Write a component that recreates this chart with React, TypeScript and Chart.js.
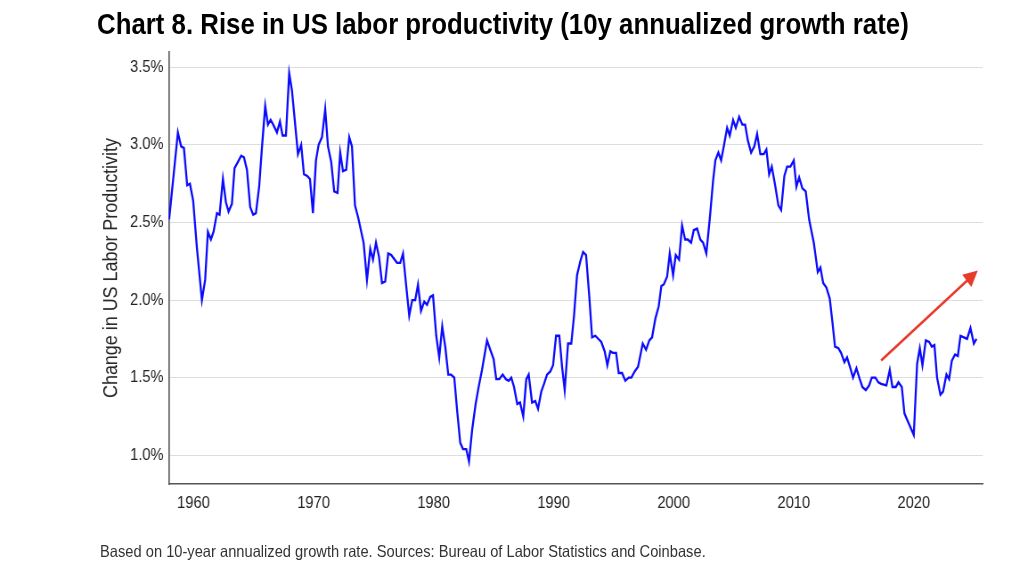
import React, { useEffect, useRef } from "react";
import { Chart, registerables } from "chart.js";

Chart.register(...registerables);

// Quarterly 10-year annualized growth of US labor productivity (%)
const years = [
  1957.97, 1958.7, 1958.97, 1959.2, 1959.47, 1959.7, 1959.97, 1960.28, 1960.7, 1960.97,
  1961.2, 1961.45, 1961.67, 1961.95, 1962.17, 1962.45, 1962.7, 1962.92, 1963.2, 1963.42,
  1963.7, 1963.97, 1964.2, 1964.45, 1964.72, 1964.97, 1965.2, 1965.47, 1965.7, 1965.97,
  1966.2, 1966.42, 1966.64, 1966.95, 1967.2, 1967.42, 1967.7, 1967.97, 1968.2, 1968.7,
  1968.97, 1969.2, 1969.47, 1969.7, 1969.95, 1970.2, 1970.42, 1970.7, 1970.97, 1971.2,
  1971.47, 1971.72, 1972.0, 1972.22, 1972.45, 1972.72, 1972.97, 1973.2, 1973.45, 1973.72,
  1974.17, 1974.45, 1974.72, 1974.95, 1975.2, 1975.45, 1975.7, 1975.97, 1976.22, 1976.47,
  1976.95, 1977.22, 1977.45, 1977.72, 1977.97, 1978.22, 1978.47, 1978.7, 1978.95, 1979.22,
  1979.45, 1979.72, 1979.95, 1980.22, 1980.47, 1980.72, 1980.97, 1981.22, 1981.45, 1981.72,
  1981.97, 1982.22, 1982.45, 1982.72, 1982.95, 1983.22, 1983.5, 1983.75, 1984.03, 1984.45,
  1984.72, 1985.0, 1985.22, 1985.47, 1985.75, 1986.03, 1986.25, 1986.47, 1986.7, 1986.97,
  1987.2, 1987.47, 1987.72, 1987.92, 1988.2, 1988.47, 1988.7, 1988.97, 1989.2, 1989.45,
  1989.72, 1989.95, 1990.2, 1990.47, 1990.7, 1990.92, 1991.2, 1991.47, 1991.7, 1991.95,
  1992.22, 1992.45, 1992.7, 1992.97, 1993.2, 1993.47, 1993.97, 1994.25, 1994.47, 1994.72,
  1994.92, 1995.2, 1995.42, 1995.7, 1995.97, 1996.25, 1996.47, 1996.75, 1997.03, 1997.42,
  1997.7, 1997.97, 1998.2, 1998.47, 1998.75, 1998.97, 1999.17, 1999.45, 1999.67, 1999.95,
  2000.17, 2000.45, 2000.7, 2000.95, 2001.17, 2001.45, 2001.67, 2001.95, 2002.22, 2002.45,
  2002.72, 2003.0, 2003.28, 2003.47, 2003.72, 2003.95, 2004.17, 2004.45, 2004.67, 2004.95,
  2005.17, 2005.45, 2005.72, 2005.95, 2006.17, 2006.45, 2006.72, 2006.95, 2007.22, 2007.5,
  2007.72, 2007.95, 2008.17, 2008.45, 2008.72, 2008.95, 2009.22, 2009.45, 2009.72, 2010.0,
  2010.22, 2010.45, 2010.72, 2011.0, 2011.28, 2011.67, 2012.0, 2012.22, 2012.45, 2012.72,
  2013.0, 2013.22, 2013.44, 2013.72, 2013.94, 2014.22, 2014.44, 2014.72, 2014.94, 2015.22,
  2015.5, 2015.72, 2016.0, 2016.28, 2016.5, 2016.8, 2017.05, 2017.28, 2017.72, 2018.0,
  2018.22, 2018.5, 2018.72, 2019.0, 2019.22, 2019.5, 2019.72, 2020.0, 2020.28, 2020.5,
  2020.72, 2021.0, 2021.28, 2021.5, 2021.72, 2021.94, 2022.22, 2022.44, 2022.72, 2022.94,
  2023.17, 2023.44, 2023.67, 2023.89, 2024.17, 2024.44, 2024.72, 2025.0, 2025.22,
];

const growth = [
  2.52, 3.08, 2.99, 2.98, 2.74, 2.75, 2.64, 2.34, 2.0, 2.13,
  2.44, 2.39, 2.44, 2.56, 2.55, 2.78, 2.63, 2.57, 2.62, 2.85,
  2.89, 2.93, 2.92, 2.84, 2.6, 2.55, 2.56, 2.73, 2.98, 3.25,
  3.13, 3.16, 3.13, 3.08, 3.15, 3.06, 3.06, 3.46, 3.35, 2.94,
  3.0, 2.81, 2.8, 2.78, 2.56, 2.9, 3.0, 3.05, 3.23, 2.99,
  2.89, 2.7, 2.69, 2.95, 2.83, 2.84, 3.05, 2.99, 2.61, 2.53,
  2.37, 2.13, 2.33, 2.26, 2.37, 2.28, 2.11, 2.12, 2.3, 2.29,
  2.24, 2.24, 2.3, 2.09, 1.9, 2.0, 2.0, 2.1, 1.93, 1.99,
  1.97, 2.02, 2.03, 1.77, 1.63, 1.83, 1.7, 1.52, 1.52, 1.5,
  1.28, 1.08, 1.04, 1.04, 0.96, 1.17, 1.33, 1.44, 1.55, 1.74,
  1.68, 1.62, 1.49, 1.49, 1.52, 1.49, 1.48, 1.5, 1.44, 1.33,
  1.34, 1.25, 1.49, 1.52, 1.34, 1.35, 1.3, 1.41, 1.46, 1.52,
  1.54, 1.58, 1.77, 1.77, 1.57, 1.42, 1.72, 1.72, 1.9, 2.16,
  2.25, 2.31, 2.29, 2.02, 1.76, 1.77, 1.73, 1.67, 1.58, 1.67,
  1.66, 1.66, 1.53, 1.53, 1.48, 1.5, 1.5, 1.54, 1.57, 1.72,
  1.68, 1.74, 1.76, 1.88, 1.96, 2.09, 2.1, 2.15, 2.3, 2.16,
  2.29, 2.26, 2.48, 2.39, 2.39, 2.37, 2.45, 2.46, 2.39, 2.37,
  2.3, 2.52, 2.77, 2.9, 2.95, 2.9, 2.99, 3.11, 3.06, 3.16,
  3.11, 3.18, 3.13, 3.13, 3.03, 2.95, 2.99, 3.07, 2.94, 2.94,
  2.97, 2.81, 2.86, 2.74, 2.61, 2.58, 2.8, 2.86, 2.86, 2.9,
  2.73, 2.79, 2.72, 2.7, 2.52, 2.37, 2.18, 2.21, 2.11, 2.08,
  2.01, 1.86, 1.7, 1.69, 1.66, 1.6, 1.63, 1.56, 1.5, 1.56,
  1.49, 1.44, 1.42, 1.45, 1.5, 1.5, 1.47, 1.46, 1.45, 1.55,
  1.44, 1.44, 1.47, 1.44, 1.27, 1.22, 1.18, 1.13, 1.59, 1.69,
  1.58, 1.74, 1.73, 1.7, 1.71, 1.5, 1.39, 1.41, 1.52, 1.49,
  1.61, 1.65, 1.64, 1.77, 1.76, 1.75, 1.82, 1.72, 1.75,
];

const xTickYears = [1960, 1970, 1980, 1990, 2000, 2010, 2020];
const yTickValues = [1.0, 1.5, 2.0, 2.5, 3.0, 3.5];

// Trend arrow: [year, growth] of its tail and tip
const trendTail = [2017.28, 1.61];
const trendTip = [2025.33, 2.19];

const SANS = "'Liberation Sans', Arial, Helvetica, sans-serif";

// The artwork is laid out wide and then condensed horizontally,
// which gives the narrow grotesque look of the type.
const SQUEEZE = 0.89;
const W = 1024;
const H = 583;
const sx = (px: number) => px / SQUEEZE;

const trendArrow = {
  id: "trendArrow",
  afterDatasetsDraw(chart: any) {
    const { ctx, scales } = chart;
    const x0 = scales.x.getPixelForValue(trendTail[0]);
    const y0 = scales.y.getPixelForValue(trendTail[1]);
    const x1 = scales.x.getPixelForValue(trendTip[0]);
    const y1 = scales.y.getPixelForValue(trendTip[1]);
    const ang = Math.atan2(y1 - y0, x1 - x0);
    const headLen = 16;
    const half = 8;
    const cos = Math.cos(ang);
    const sin = Math.sin(ang);
    const bx = x1 - headLen * cos;
    const by = y1 - headLen * sin;
    ctx.save();
    ctx.strokeStyle = "#e8392b";
    ctx.fillStyle = "#e8392b";
    ctx.lineWidth = 2.6;
    ctx.lineCap = "butt";
    ctx.beginPath();
    ctx.moveTo(x0, y0);
    ctx.lineTo(bx + cos, by + sin);
    ctx.stroke();
    ctx.beginPath();
    ctx.moveTo(x1, y1);
    ctx.lineTo(bx - half * sin, by + half * cos);
    ctx.lineTo(bx + half * sin, by - half * cos);
    ctx.closePath();
    ctx.fill();
    ctx.restore();
  },
};

export default function App() {
  const canvasRef = useRef<HTMLCanvasElement | null>(null);

  useEffect(() => {
    if (!canvasRef.current) return;
    const chart = new Chart(canvasRef.current, {
      type: "line",
      data: {
        datasets: [
          {
            data: years.map((t, i) => ({ x: t, y: growth[i] })),
            borderColor: "#0b0bff",
            borderWidth: 2.3,
            pointRadius: 0,
            tension: 0,
            fill: false,
          },
        ],
      },
      options: {
        animation: false,
        responsive: true,
        maintainAspectRatio: false,
        layout: { padding: { left: 0, top: 51.7, right: sx(W) - sx(982), bottom: 0 } },
        plugins: {
          legend: { display: false },
          tooltip: { enabled: false },
        },
        scales: {
          x: {
            type: "linear",
            min: 1957.93,
            max: 2025.75,
            afterBuildTicks: (s: any) => {
              s.ticks = xTickYears.map((v) => ({ value: v }));
            },
            afterFit: (s: any) => {
              s.height = H - 484;
            },
            grid: { display: false, drawTicks: false },
            border: { display: true, color: "#555", width: 1.6 },
            ticks: {
              padding: 9.5,
              maxRotation: 0,
              autoSkip: false,
              color: "#222",
              font: { family: SANS, size: 16.5 },
              callback: (v: any) => String(v),
            },
          },
          y: {
            type: "linear",
            min: 0.815,
            max: 3.6,
            afterBuildTicks: (s: any) => {
              s.ticks = yTickValues.map((v) => ({ value: v }));
            },
            afterFit: (s: any) => {
              s.width = sx(168.5);
            },
            grid: { color: "#dddddd", lineWidth: 1, drawTicks: false },
            border: { display: true, color: "#555", width: 1.6 },
            ticks: {
              padding: sx(5),
              color: "#222",
              font: { family: SANS, size: 16.5 },
              callback: (v: any) => `${Number(v).toFixed(1)}%`,
            },
          },
        },
      },
      plugins: [trendArrow],
    });
    return () => chart.destroy();
  }, []);

  return (
    <div
      style={{
        position: "absolute",
        left: 0,
        top: 0,
        width: W,
        height: H,
        background: "#fff",
        overflow: "hidden",
      }}
    >
      <div
        style={{
          position: "absolute",
          left: 0,
          top: 0,
          width: sx(W),
          height: H,
          transform: `scaleX(${SQUEEZE})`,
          transformOrigin: "0 0",
        }}
      >
        <div
          style={{
            position: "absolute",
            left: sx(97),
            top: 10,
            fontFamily: SANS,
            fontWeight: "bold",
            fontSize: 29,
            lineHeight: "29px",
            color: "#000",
            whiteSpace: "nowrap",
          }}
        >
          Chart 8. Rise in US labor productivity (10y annualized growth rate)
        </div>
        <div style={{ position: "absolute", left: 0, top: 0, width: sx(W), height: H }}>
          <canvas ref={canvasRef} />
        </div>
        <div
          style={{
            position: "absolute",
            left: sx(100),
            top: 543,
            fontFamily: SANS,
            fontSize: 16.5,
            lineHeight: "17px",
            color: "#333",
            whiteSpace: "nowrap",
          }}
        >
          Based on 10-year annualized growth rate. Sources: Bureau of Labor Statistics and Coinbase.
        </div>
      </div>
      {/* Vertical axis title, condensed along its reading direction */}
      <div
        style={{
          position: "absolute",
          left: 111.1,
          top: 267.5,
          fontFamily: SANS,
          fontSize: 19.7,
          lineHeight: "19.7px",
          color: "#222",
          whiteSpace: "nowrap",
          transform: `translate(-50%, -50%) rotate(-90deg) scaleX(${SQUEEZE + 0.02})`,
        }}
      >
        Change in US Labor Productivity
      </div>
    </div>
  );
}
